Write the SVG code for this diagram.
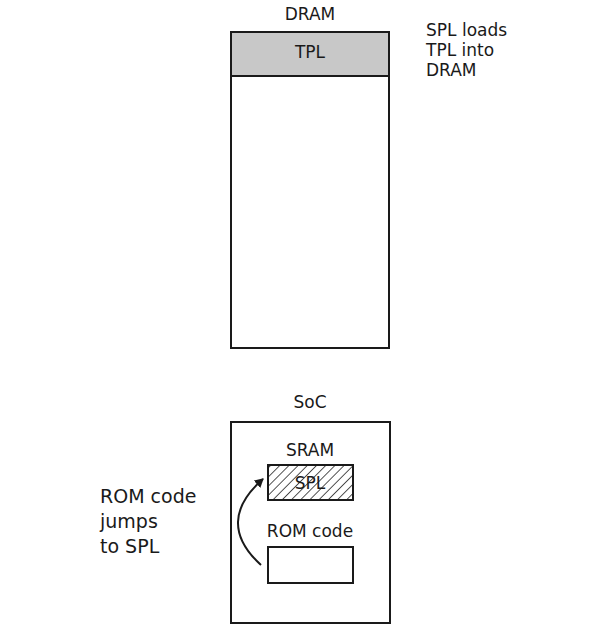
<svg xmlns="http://www.w3.org/2000/svg" width="595" height="636" viewBox="0 0 595 636">
<style>
text{font-family:"DejaVu Sans","Noto Sans",sans-serif;fill:#1a1a1a}
.box{fill:#fff;stroke:#1a1a1a;stroke-width:2}
.m{text-anchor:middle;font-size:17px}
.n{font-size:17px}
.l{font-size:19px}
</style>
<defs>
<pattern id="hatch" patternUnits="userSpaceOnUse" width="6.5" height="6.5" patternTransform="rotate(45)">
<line x1="0" y1="0" x2="0" y2="6.5" stroke="#1a1a1a" stroke-width="1.5"/>
</pattern>
<marker id="ah" markerWidth="10" markerHeight="10" refX="8" refY="5" orient="auto" markerUnits="userSpaceOnUse">
<path d="M0,0 L9,5 L0,10 Z" fill="#1a1a1a"/>
</marker>
</defs>
<rect width="595" height="636" fill="#fff"/>
<g id="dram">
<text class="m" x="310" y="20">DRAM</text>
<rect class="box" x="231" y="32" width="158" height="316"/>
<rect x="231" y="32" width="158" height="44" fill="#c8c8c8" stroke="#1a1a1a" stroke-width="2"/>
<text class="m" x="310" y="58">TPL</text>
</g>
<g id="note-top">
<text class="n" x="426" y="36">SPL loads</text>
<text class="n" x="426" y="56">TPL into</text>
<text class="n" x="426" y="76">DRAM</text>
</g>
<g id="soc">
<text class="m" x="310" y="408">SoC</text>
<rect class="box" x="231" y="422" width="159" height="201"/>
</g>
<g id="sram">
<text class="m" x="310" y="456">SRAM</text>
<rect x="268" y="465" width="85" height="35" fill="#fff"/>
<text class="m" x="310" y="489">SPL</text>
<rect x="268" y="465" width="85" height="35" fill="url(#hatch)" stroke="#1a1a1a" stroke-width="2"/>
</g>
<g id="rom">
<text class="m" x="310" y="537">ROM code</text>
<rect class="box" x="268" y="547" width="85" height="36"/>
</g>
<g id="note-left">
<text class="l" x="100" y="503">ROM code</text>
<text class="l" x="100" y="528">jumps</text>
<text class="l" x="100" y="553">to SPL</text>
</g>
<g id="connectors">
<path d="M261,565 Q214,522 263,479" fill="none" stroke="#1a1a1a" stroke-width="2" marker-end="url(#ah)"/>
</g>
</svg>
